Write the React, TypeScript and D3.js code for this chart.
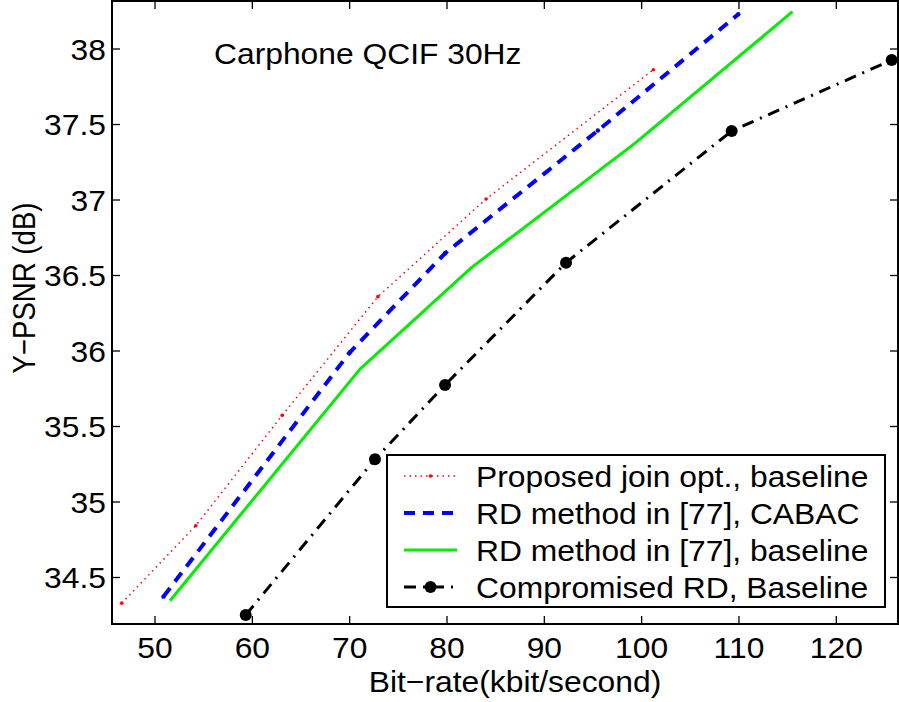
import React from "react";
import * as d3 from "d3";

const proposedX = [46.58, 54.18, 63.07, 72.9, 84.02, 101.2];
const proposedY = [34.33, 34.843, 35.574, 36.36, 37.007, 37.863];
const cabacX = [50.86, 70.0, 79.8, 95.5, 109.93];
const cabacY = [34.373, 35.99, 36.647, 37.46, 38.23];
const baselineX = [51.54, 71.06, 82.54, 99.3, 115.5];
const baselineY = [34.346, 35.88, 36.554, 37.375, 38.247];
const compX = [59.32, 72.6, 79.8, 92.23, 109.25, 125.69];
const compY = [34.252, 35.283, 35.775, 36.585, 37.457, 37.927];

const xTicks = [50, 60, 70, 80, 90, 100, 110, 120];
const yTicks = [34.5, 35, 35.5, 36, 36.5, 37, 37.5, 38];
const legendLabels = [
  "Proposed join opt., baseline",
  "RD method in [77], CABAC",
  "RD method in [77], baseline",
  "Compromised RD, Baseline",
];
const title = "Carphone QCIF 30Hz";
const xLabel = "Bit\u2212rate(kbit/second)";
const yLabel = "Y\u2212PSNR (dB)";

const FONT = "'Liberation Sans', Arial, Helvetica, sans-serif";
const SX = 1.06;

function T({ x, y, anchor, children, dy, rotate }: any) {
  const tr = rotate
    ? `translate(${x},${y}) rotate(-90) scale(0.92,1.07)`
    : `translate(${x},${y}) scale(${SX},1)`;
  return (
    <text transform={tr} fontSize={30} textAnchor={anchor || "start"} dy={dy}>
      {children}
    </text>
  );
}

export default function App() {
  const L = 112, R = 898, TOP = 1, B = 624;
  const x = d3.scaleLinear().domain([45.58, 126.34]).range([L, R]);
  const y = d3.scaleLinear().domain([34.192, 38.318]).range([B, TOP]);
  const line = d3.line<[number, number]>().x((d) => x(d[0])).y((d) => y(d[1]));
  const pts = (xs: number[], ys: number[]) => xs.map((v, i) => [v, ys[i]] as [number, number]);

  const series = [
    { data: pts(proposedX, proposedY), color: "#ff0000", width: 1.5, dash: "1.5,4", marker: 1.8 },
    { data: pts(cabacX, cabacY), color: "#0000ff", width: 4, dash: "11,8", marker: 2.2 },
    { data: pts(baselineX, baselineY), color: "#00ee00", width: 3, dash: "", marker: 0 },
    { data: pts(compX, compY), color: "#000000", width: 3, dash: "12,7,2,7", marker: 6 },
  ];

  const legX = 387, legY = 455, legW = 498, legH = 152;
  const rowY = [476, 513, 550, 587];

  return (
    <svg width={899} height={702} style={{ position: "absolute", left: 0, top: 0, background: "#fff" }} fontFamily={FONT}>
      <rect x={0} y={0} width={899} height={702} fill="#fff" />
      <defs>
        <clipPath id="plot">
          <rect x={L} y={TOP} width={R - L} height={B - TOP} />
        </clipPath>
      </defs>
      {xTicks.map((t) => (
        <g key={"xt" + t}>
          <line x1={x(t)} x2={x(t)} y1={B} y2={B - 8} stroke="#000" strokeWidth={1.3} />
          <line x1={x(t)} x2={x(t)} y1={TOP} y2={TOP + 8} stroke="#000" strokeWidth={1.3} />
          <T x={x(t)} y={658} anchor="middle">{t}</T>
        </g>
      ))}
      {yTicks.map((t) => (
        <g key={"yt" + t}>
          <line x1={L} x2={L + 8} y1={y(t)} y2={y(t)} stroke="#000" strokeWidth={1.3} />
          <line x1={R} x2={R - 8} y1={y(t)} y2={y(t)} stroke="#000" strokeWidth={1.3} />
          <T x={106} y={y(t)} dy="0.36em" anchor="end">{t}</T>
        </g>
      ))}
      <g clipPath="url(#plot)">
        {series.map((s, i) => (
          <g key={"s" + i}>
            <path d={line(s.data) || ""} fill="none" stroke={s.color} strokeWidth={s.width}
              strokeDasharray={s.dash || undefined} strokeLinejoin="round" />
            {s.marker > 0 && s.data.map((p, j) => (
              <circle key={j} cx={x(p[0])} cy={y(p[1])} r={s.marker} fill={s.color} />
            ))}
          </g>
        ))}
      </g>
      <rect x={L} y={TOP} width={R - L} height={B - TOP} fill="none" stroke="#000" strokeWidth={2} />
      <T x={214} y={64}>{title}</T>
      <T x={515} y={692} anchor="middle">{xLabel}</T>
      <T x={35} y={288} anchor="middle" rotate>{yLabel}</T>
      <rect x={legX} y={legY} width={legW} height={legH} fill="#fff" stroke="#000" strokeWidth={2} />
      {series.map((s, i) => (
        <g key={"lg" + i}>
          <line x1={404} x2={457} y1={rowY[i]} y2={rowY[i]} stroke={s.color} strokeWidth={s.width}
            strokeDasharray={s.dash || undefined} />
          {s.marker > 0 && <circle cx={430.5} cy={rowY[i]} r={s.marker} fill={s.color} />}
          <T x={476} y={rowY[i]} dy="0.36em">{legendLabels[i]}</T>
        </g>
      ))}
    </svg>
  );
}
